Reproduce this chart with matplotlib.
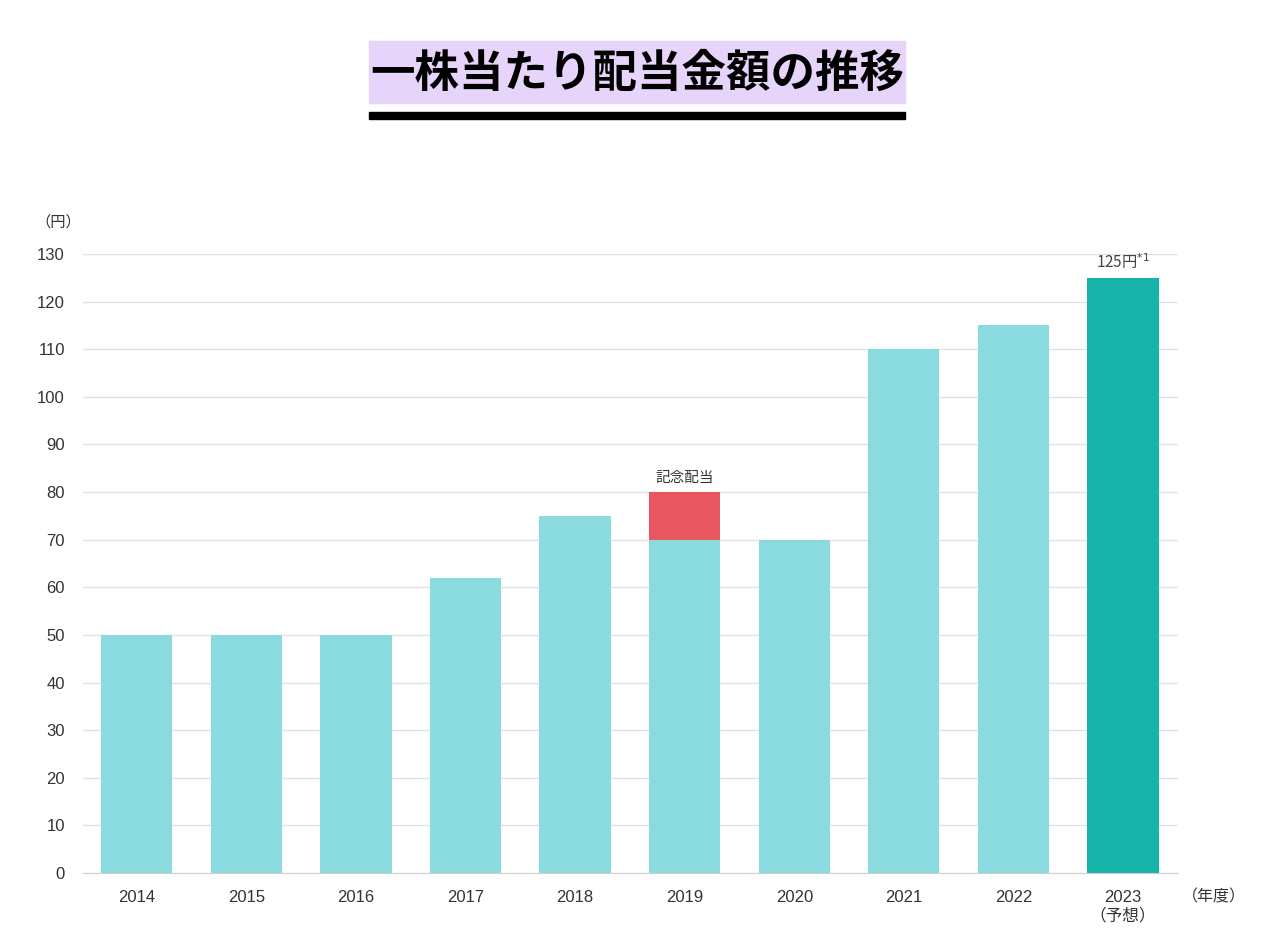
import matplotlib.pyplot as plt
from matplotlib.patches import Rectangle

plt.rcParams['font.family'] = ['Noto Sans CJK JP', 'DejaVu Sans']
num_font = ['Liberation Sans', 'Noto Sans CJK JP']

# データ
years = ['2014', '2015', '2016', '2017', '2018', '2019', '2020', '2021', '2022', '2023\n（予想）']
base_values = [50, 50, 50, 62, 75, 70, 70, 110, 115, 125]
commemorative = [0, 0, 0, 0, 0, 10, 0, 0, 0, 0]
y_ticks = list(range(0, 131, 10))

light = '#8adbe0'
teal = '#16b3a8'
red = '#e8565f'
colors = [light] * 9 + [teal]

fig = plt.figure(figsize=(12.79, 9.47), dpi=100)
ax = fig.add_axes([0.0649, 0.0781, 0.856, 0.6537])

x = list(range(len(years)))
ax.bar(x, base_values, width=0.65, color=colors, zorder=2)
ax.bar(x, commemorative, width=0.65, bottom=base_values, color=red, zorder=2)

ax.set_xlim(-0.49, 9.5)
ax.set_ylim(0, 130)
ax.set_yticks(y_ticks)
ax.set_xticks(x)
ax.set_xticklabels(years, fontsize=12, color='#333333', linespacing=1.25, va='top', family=num_font)
ax.set_yticklabels([str(v) for v in y_ticks], fontsize=12, color='#333333', family=num_font)
ax.tick_params(axis='y', length=0, pad=13)
ax.tick_params(axis='x', length=0, pad=12)
ax.grid(axis='y', color='#e2e2e2', linewidth=1, zorder=0)
for s in ['top', 'right', 'left']:
    ax.spines[s].set_visible(False)
ax.spines['bottom'].set_color('#d0d0d0')

# 注記
ax.text(5, 80 + 1.5, '記念配当', ha='center', va='bottom', fontsize=10.5, color='#333333')
ax.text(9, 125 + 1.3, '125円$^{*1}$', ha='center', va='bottom', fontsize=11, color='#444444')
fig.text(35 / 1279, 1 - 222 / 947, '（円）', ha='left', va='center', fontsize=11, color='#333333')
fig.text(1214 / 1279, 1 - 897 / 947, '（年度）', ha='center', va='center', fontsize=11.5, color='#333333')

# タイトル
fig.patches.append(Rectangle((369 / 1279, 1 - 103 / 947), 536 / 1279, 62 / 947,
                             transform=fig.transFigure, color='#e6d4fb', zorder=0))
fig.patches.append(Rectangle((369 / 1279, 1 - 119 / 947), 536 / 1279, 7 / 947,
                             transform=fig.transFigure, color='black', zorder=0))
fig.text(637 / 1279, 1 - 74 / 947, '一株当たり配当金額の推移', ha='center', va='center',
         fontsize=32, fontweight='bold', color='black')

fig.savefig('out.png', dpi=100)
